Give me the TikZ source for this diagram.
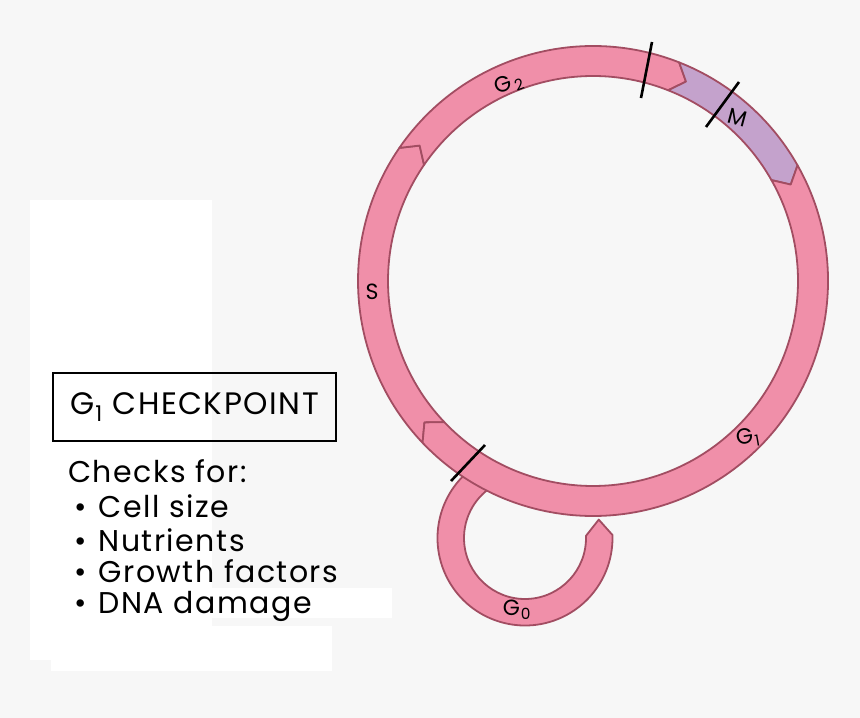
\documentclass[tikz,border=0pt]{standalone}
\usepackage{fontspec}
\setmainfont{Poppins}
\newfontfamily\handfont[LetterSpace=5]{Poppins}
\usetikzlibrary{positioning}
\definecolor{bgray}{HTML}{F7F7F7}
\definecolor{ringpink}{HTML}{F08FA9}
\definecolor{ringedge}{HTML}{A24D62}
\definecolor{mpurple}{HTML}{C4A2CC}
\tikzset{
  phase/.style={fill=ringpink, draw=ringedge, line width=1.8pt, line join=round},
  tick/.style={draw=black, line width=2.6pt},
  ringlabel/.style={font=\fontsize{22}{22}\selectfont, inner sep=0pt},
  handtext/.style={font=\handfont\fontsize{30}{30}\selectfont, anchor=base west, inner sep=0pt},
}
\begin{document}
\begin{tikzpicture}[x=1pt, y=1pt]
    % canvas and the white paper scraps
    \fill[bgray] (0,0) rectangle (860,-718);
    \useasboundingbox (0,0) rectangle (860,-718);
    \fill[white] (30,-200) rectangle (212,-660);
    \fill[white] (212,-588) rectangle (392,-618);
    \fill[white] (51,-626) rectangle (332,-671);

    \coordinate (ring) at (593,-281);
    \coordinate (loop) at (525,-538);

    % G0 loop, drawn first so the ring sits on top
    \begin{scope}[shift={(loop)}]
        \draw[phase] (118:87.5) arc[start angle=118, end angle=362, radius=87.5] -- (374:76) -- (362:61) arc[start angle=362, end angle=118, radius=61] -- cycle;
    \end{scope}

    % the ring, one piece per phase
    \begin{scope}[shift={(ring)}]
        \draw[phase] (223.5:235) arc[start angle=223.5, end angle=145.5, radius=235] -- (142:220) -- (145.5:205) arc[start angle=145.5, end angle=223.5, radius=205] -- (220:220) -- cycle; % S
        \draw[phase] (145.5:235) arc[start angle=145.5, end angle=68.5, radius=235] -- (65:220) -- (68.5:205) arc[start angle=68.5, end angle=145.5, radius=205] -- (142:220) -- cycle; % G2
        \draw[phase, fill=mpurple] (68.5:235) arc[start angle=68.5, end angle=29.5, radius=235] -- (26:220) -- (29.5:205) arc[start angle=29.5, end angle=68.5, radius=205] -- (65:220) -- cycle; % M
        \draw[phase] (29.5:235) arc[start angle=29.5, end angle=-136.5, radius=235] -- (-140:220) -- (-136.5:205) arc[start angle=-136.5, end angle=29.5, radius=205] -- (26:220) -- cycle; % G1
    \end{scope}

    % checkpoints
    \draw[tick] (641,-98) -- (652,-42);
    \draw[tick] (706,-127) -- (739,-82);
    \draw[tick] (451,-481) -- (485,-445);

    % phase labels
    \node[ringlabel, rotate=20] (g2lbl) at (509,-84) {G\kern2pt\textsubscript{2}};
    \node[ringlabel, rotate=-15] (mlbl) at (738,-118) {M};
    \node[ringlabel] (slbl) at (372,-292) {S};
    \node[ringlabel, rotate=10] (g1lbl) at (748,-438) {G\kern1pt\textsubscript{1}};
    \node[ringlabel] (g0lbl) at (517,-610) {G\kern1pt\textsubscript{0}};

    % checkpoint notes
    \node[draw, line width=2pt, minimum width=283pt, minimum height=68pt, font=\handfont\fontsize{31}{31}\selectfont] (title) at (194.5,-407) {G\kern1pt\textsubscript{1} CHECKPOINT};
    \node[handtext] (checks) at (68,-482) {Checks for:};
    \node[handtext] (cell) at (74,-517) {\textbullet\hspace{12pt}Cell size};
    \node[handtext] (nutrients) at (74,-551) {\textbullet\hspace{12pt}Nutrients};
    \node[handtext] (growth) at (74,-582) {\textbullet\hspace{12pt}Growth factors};
    \node[handtext] (dna) at (74,-613) {\textbullet\hspace{12pt}DNA damage};
\end{tikzpicture}
\end{document}
